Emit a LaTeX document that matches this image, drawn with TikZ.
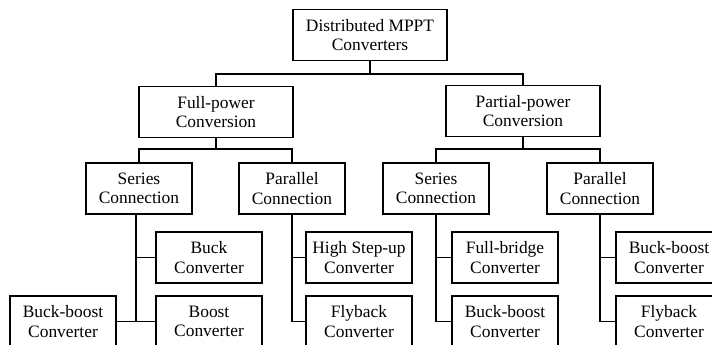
\documentclass[tikz,border=0pt]{standalone}
\usepackage{fontspec}
\setmainfont{Liberation Serif}
\usetikzlibrary{positioning}

\begin{document}
\begin{tikzpicture}[
    x=1pt, y=-1pt,
    topbox/.style={draw, line width=1.6pt, minimum width=154pt, minimum height=51pt, align=center, inner sep=0pt},
    subbox/.style={draw, line width=1.6pt, minimum width=106pt, minimum height=51pt, align=center, inner sep=0pt},
    conn/.style={line width=1.6pt},
    font=\fontsize{17.4}{19.5}\selectfont,
]
\useasboundingbox (0,0) rectangle (712,345);
\node[topbox] (root) at (370, 35) {Distributed MPPT\\Converters};
\node[topbox] (fullp) at (216, 112) {Full-power\\Conversion};
\node[topbox] (partp) at (523, 111) {Partial-power\\Conversion};
\node[subbox] (ser1) at (139, 188.5) {Series\\Connection};
\node[subbox] (par1) at (292, 188.5) {Parallel\\Connection};
\node[subbox] (ser2) at (436, 188.5) {Series\\Connection};
\node[subbox] (par2) at (600, 188.5) {Parallel\\Connection};
\node[subbox] (buck) at (209, 257.5) {Buck\\Converter};
\node[subbox] (boost) at (209, 321.5) {Boost\\Converter};
\node[subbox] (bb1) at (63, 321.5) {Buck-boost\\Converter};
\node[subbox] (hsu) at (359, 257.5) {High Step-up\\Converter};
\node[subbox] (fly1) at (359, 321.5) {Flyback\\Converter};
\node[subbox] (fb) at (505, 257.5) {Full-bridge\\Converter};
\node[subbox] (bb2) at (505, 321.5) {Buck-boost\\Converter};
\node[subbox] (bb3) at (669, 257.5) {Buck-boost\\Converter};
\node[subbox] (fly2) at (669, 321.5) {Flyback\\Converter};
\coordinate (j0) at (370, 74);
\coordinate (j1) at (216, 149);
\coordinate (j2) at (523, 149);
\draw[conn] (root.south) -- (j0);
\draw[conn] (fullp.north) |- (j0) -| (partp.north);
\draw[conn] (fullp.south) -- (j1);
\draw[conn] (ser1.north) |- (j1) -| (par1.north);
\draw[conn] (partp.south) -- (j2);
\draw[conn] (ser2.north) |- (j2) -| (par2.north);
\draw[conn] ([xshift=-3pt]ser1.south) |- (buck.west);
\draw[conn] ([xshift=-3pt]ser1.south) |- (boost.west);
\draw[conn] (bb1.east) -- (boost.west);
\draw[conn] (par1.south) |- (hsu.west);
\draw[conn] (par1.south) |- (fly1.west);
\draw[conn] (ser2.south) |- (fb.west);
\draw[conn] (ser2.south) |- (bb2.west);
\draw[conn] (par2.south) |- (bb3.west);
\draw[conn] (par2.south) |- (fly2.west);
\end{tikzpicture}
\end{document}
